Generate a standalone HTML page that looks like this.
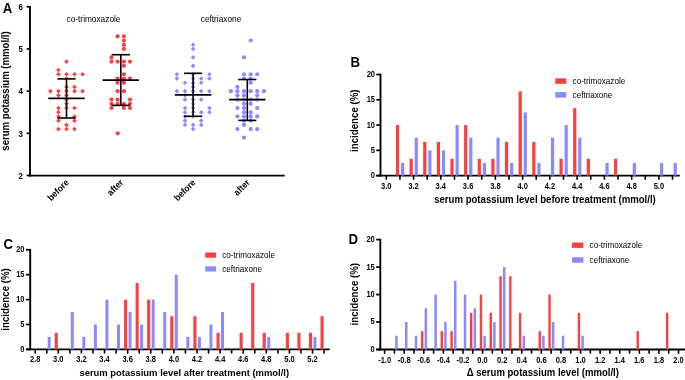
<!DOCTYPE html>
<html><head><meta charset="utf-8"><style>
html,body{margin:0;padding:0;background:#fff;width:685px;height:380px;overflow:hidden}
svg{display:block;font-family:"Liberation Sans", sans-serif;will-change:transform}
text{fill:#000}
</style></head><body>
<svg width="685" height="380" viewBox="0 0 685 380">
<text transform="translate(2.80,12.60) scale(1.0,1.15)" font-size="13.2" font-weight="bold" text-anchor="start">A</text>
<line x1="30.00" y1="5.90" x2="30.00" y2="176.40" stroke="#000" stroke-width="1.9"/>
<line x1="29.10" y1="175.60" x2="284.70" y2="175.60" stroke="#000" stroke-width="1.9"/>
<line x1="26.60" y1="175.50" x2="30.00" y2="175.50" stroke="#000" stroke-width="1.7"/>
<text transform="translate(23.00,178.75) scale(1.0,1.22)" font-size="7.9" font-weight="bold" text-anchor="end">2</text>
<line x1="26.60" y1="133.32" x2="30.00" y2="133.32" stroke="#000" stroke-width="1.7"/>
<text transform="translate(23.00,136.57) scale(1.0,1.22)" font-size="7.9" font-weight="bold" text-anchor="end">3</text>
<line x1="26.60" y1="91.14" x2="30.00" y2="91.14" stroke="#000" stroke-width="1.7"/>
<text transform="translate(23.00,94.39) scale(1.0,1.22)" font-size="7.9" font-weight="bold" text-anchor="end">4</text>
<line x1="26.60" y1="48.96" x2="30.00" y2="48.96" stroke="#000" stroke-width="1.7"/>
<text transform="translate(23.00,52.21) scale(1.0,1.22)" font-size="7.9" font-weight="bold" text-anchor="end">5</text>
<line x1="26.60" y1="6.78" x2="30.00" y2="6.78" stroke="#000" stroke-width="1.7"/>
<text transform="translate(23.00,10.03) scale(1.0,1.22)" font-size="7.9" font-weight="bold" text-anchor="end">6</text>
<text transform="translate(93.50,21.70) scale(1.0,1.08)" font-size="8.3" font-weight="normal" text-anchor="middle">co-trimoxazole</text>
<text transform="translate(221.00,21.60) scale(1.0,1.08)" font-size="8.3" font-weight="normal" text-anchor="middle">ceftriaxone</text>
<text transform="translate(9.00,91.00) rotate(-90) scale(1.0,1.05)" font-size="9.6" font-weight="bold" text-anchor="middle">serum potassium (mmol/l)</text>
<text transform="translate(69.50,183.20) rotate(-45) scale(1.0,1.08)" font-size="8.5" font-weight="bold" text-anchor="end">before</text>
<text transform="translate(123.80,183.20) rotate(-45) scale(1.0,1.08)" font-size="8.5" font-weight="bold" text-anchor="end">after</text>
<text transform="translate(196.10,183.20) rotate(-45) scale(1.0,1.08)" font-size="8.5" font-weight="bold" text-anchor="end">before</text>
<text transform="translate(250.30,183.20) rotate(-45) scale(1.0,1.08)" font-size="8.5" font-weight="bold" text-anchor="end">after</text>
<path d="M66.50 59.31L68.80 61.61L66.50 63.91L64.20 61.61Z" fill="#FA3F3F"/>
<path d="M58.45 67.75L60.75 70.05L58.45 72.35L56.15 70.05Z" fill="#FA3F3F"/>
<path d="M58.45 71.97L60.75 74.27L58.45 76.57L56.15 74.27Z" fill="#FA3F3F"/>
<path d="M66.50 71.97L68.80 74.27L66.50 76.57L64.20 74.27Z" fill="#FA3F3F"/>
<path d="M74.55 71.97L76.85 74.27L74.55 76.57L72.25 74.27Z" fill="#FA3F3F"/>
<path d="M82.60 71.97L84.90 74.27L82.60 76.57L80.30 74.27Z" fill="#FA3F3F"/>
<path d="M66.50 76.19L68.80 78.49L66.50 80.79L64.20 78.49Z" fill="#FA3F3F"/>
<path d="M66.50 84.62L68.80 86.92L66.50 89.22L64.20 86.92Z" fill="#FA3F3F"/>
<path d="M74.55 84.62L76.85 86.92L74.55 89.22L72.25 86.92Z" fill="#FA3F3F"/>
<path d="M50.40 88.84L52.70 91.14L50.40 93.44L48.10 91.14Z" fill="#FA3F3F"/>
<path d="M58.45 88.84L60.75 91.14L58.45 93.44L56.15 91.14Z" fill="#FA3F3F"/>
<path d="M66.50 88.84L68.80 91.14L66.50 93.44L64.20 91.14Z" fill="#FA3F3F"/>
<path d="M74.55 88.84L76.85 91.14L74.55 93.44L72.25 91.14Z" fill="#FA3F3F"/>
<path d="M82.60 88.84L84.90 91.14L82.60 93.44L80.30 91.14Z" fill="#FA3F3F"/>
<path d="M58.45 93.06L60.75 95.36L58.45 97.66L56.15 95.36Z" fill="#FA3F3F"/>
<path d="M66.50 93.06L68.80 95.36L66.50 97.66L64.20 95.36Z" fill="#FA3F3F"/>
<path d="M66.50 97.28L68.80 99.58L66.50 101.88L64.20 99.58Z" fill="#FA3F3F"/>
<path d="M66.50 101.49L68.80 103.79L66.50 106.09L64.20 103.79Z" fill="#FA3F3F"/>
<path d="M58.45 105.71L60.75 108.01L58.45 110.31L56.15 108.01Z" fill="#FA3F3F"/>
<path d="M66.50 105.71L68.80 108.01L66.50 110.31L64.20 108.01Z" fill="#FA3F3F"/>
<path d="M74.55 105.71L76.85 108.01L74.55 110.31L72.25 108.01Z" fill="#FA3F3F"/>
<path d="M58.45 109.93L60.75 112.23L58.45 114.53L56.15 112.23Z" fill="#FA3F3F"/>
<path d="M58.45 114.15L60.75 116.45L58.45 118.75L56.15 116.45Z" fill="#FA3F3F"/>
<path d="M74.55 114.15L76.85 116.45L74.55 118.75L72.25 116.45Z" fill="#FA3F3F"/>
<path d="M58.45 118.37L60.75 120.67L58.45 122.97L56.15 120.67Z" fill="#FA3F3F"/>
<path d="M74.55 118.37L76.85 120.67L74.55 122.97L72.25 120.67Z" fill="#FA3F3F"/>
<path d="M66.50 122.58L68.80 124.88L66.50 127.18L64.20 124.88Z" fill="#FA3F3F"/>
<path d="M58.45 126.80L60.75 129.10L58.45 131.40L56.15 129.10Z" fill="#FA3F3F"/>
<path d="M66.50 126.80L68.80 129.10L66.50 131.40L64.20 129.10Z" fill="#FA3F3F"/>
<path d="M74.55 126.80L76.85 129.10L74.55 131.40L72.25 129.10Z" fill="#FA3F3F"/>
<circle cx="117.60" cy="36.31" r="2.1" fill="#FA3F3F"/>
<circle cx="123.90" cy="36.31" r="2.1" fill="#FA3F3F"/>
<circle cx="123.90" cy="40.52" r="2.1" fill="#FA3F3F"/>
<circle cx="123.90" cy="44.74" r="2.1" fill="#FA3F3F"/>
<circle cx="123.90" cy="48.96" r="2.1" fill="#FA3F3F"/>
<circle cx="111.50" cy="57.40" r="2.1" fill="#FA3F3F"/>
<circle cx="111.50" cy="61.61" r="2.1" fill="#FA3F3F"/>
<circle cx="117.60" cy="61.61" r="2.1" fill="#FA3F3F"/>
<circle cx="123.90" cy="61.61" r="2.1" fill="#FA3F3F"/>
<circle cx="130.00" cy="61.61" r="2.1" fill="#FA3F3F"/>
<circle cx="123.90" cy="65.83" r="2.1" fill="#FA3F3F"/>
<circle cx="123.90" cy="74.27" r="2.1" fill="#FA3F3F"/>
<circle cx="117.60" cy="78.49" r="2.1" fill="#FA3F3F"/>
<circle cx="123.90" cy="78.49" r="2.1" fill="#FA3F3F"/>
<circle cx="130.00" cy="78.49" r="2.1" fill="#FA3F3F"/>
<circle cx="117.60" cy="82.70" r="2.1" fill="#FA3F3F"/>
<circle cx="123.90" cy="82.70" r="2.1" fill="#FA3F3F"/>
<circle cx="117.60" cy="91.14" r="2.1" fill="#FA3F3F"/>
<circle cx="123.90" cy="91.14" r="2.1" fill="#FA3F3F"/>
<circle cx="111.50" cy="99.58" r="2.1" fill="#FA3F3F"/>
<circle cx="117.60" cy="99.58" r="2.1" fill="#FA3F3F"/>
<circle cx="130.00" cy="99.58" r="2.1" fill="#FA3F3F"/>
<circle cx="111.50" cy="103.79" r="2.1" fill="#FA3F3F"/>
<circle cx="117.60" cy="103.79" r="2.1" fill="#FA3F3F"/>
<circle cx="123.90" cy="103.79" r="2.1" fill="#FA3F3F"/>
<circle cx="130.00" cy="103.79" r="2.1" fill="#FA3F3F"/>
<circle cx="111.50" cy="108.01" r="2.1" fill="#FA3F3F"/>
<circle cx="123.90" cy="108.01" r="2.1" fill="#FA3F3F"/>
<circle cx="130.00" cy="108.01" r="2.1" fill="#FA3F3F"/>
<circle cx="117.70" cy="133.32" r="2.1" fill="#FA3F3F"/>
<path d="M193.10 42.44L195.40 44.74L193.10 47.04L190.80 44.74Z" fill="#8A8AFF"/>
<path d="M193.10 46.66L195.40 48.96L193.10 51.26L190.80 48.96Z" fill="#8A8AFF"/>
<path d="M193.10 55.10L195.40 57.40L193.10 59.70L190.80 57.40Z" fill="#8A8AFF"/>
<path d="M193.10 63.53L195.40 65.83L193.10 68.13L190.80 65.83Z" fill="#8A8AFF"/>
<path d="M176.90 71.97L179.20 74.27L176.90 76.57L174.60 74.27Z" fill="#8A8AFF"/>
<path d="M193.10 71.97L195.40 74.27L193.10 76.57L190.80 74.27Z" fill="#8A8AFF"/>
<path d="M209.40 71.97L211.70 74.27L209.40 76.57L207.10 74.27Z" fill="#8A8AFF"/>
<path d="M176.90 76.19L179.20 78.49L176.90 80.79L174.60 78.49Z" fill="#8A8AFF"/>
<path d="M193.10 76.19L195.40 78.49L193.10 80.79L190.80 78.49Z" fill="#8A8AFF"/>
<path d="M201.20 76.19L203.50 78.49L201.20 80.79L198.90 78.49Z" fill="#8A8AFF"/>
<path d="M209.40 76.19L211.70 78.49L209.40 80.79L207.10 78.49Z" fill="#8A8AFF"/>
<path d="M185.00 80.40L187.30 82.70L185.00 85.00L182.70 82.70Z" fill="#8A8AFF"/>
<path d="M193.10 80.40L195.40 82.70L193.10 85.00L190.80 82.70Z" fill="#8A8AFF"/>
<path d="M201.20 80.40L203.50 82.70L201.20 85.00L198.90 82.70Z" fill="#8A8AFF"/>
<path d="M193.10 84.62L195.40 86.92L193.10 89.22L190.80 86.92Z" fill="#8A8AFF"/>
<path d="M176.90 88.84L179.20 91.14L176.90 93.44L174.60 91.14Z" fill="#8A8AFF"/>
<path d="M185.00 88.84L187.30 91.14L185.00 93.44L182.70 91.14Z" fill="#8A8AFF"/>
<path d="M193.10 88.84L195.40 91.14L193.10 93.44L190.80 91.14Z" fill="#8A8AFF"/>
<path d="M201.20 88.84L203.50 91.14L201.20 93.44L198.90 91.14Z" fill="#8A8AFF"/>
<path d="M209.40 88.84L211.70 91.14L209.40 93.44L207.10 91.14Z" fill="#8A8AFF"/>
<path d="M185.00 93.06L187.30 95.36L185.00 97.66L182.70 95.36Z" fill="#8A8AFF"/>
<path d="M185.00 97.28L187.30 99.58L185.00 101.88L182.70 99.58Z" fill="#8A8AFF"/>
<path d="M193.10 97.28L195.40 99.58L193.10 101.88L190.80 99.58Z" fill="#8A8AFF"/>
<path d="M201.20 97.28L203.50 99.58L201.20 101.88L198.90 99.58Z" fill="#8A8AFF"/>
<path d="M193.10 101.49L195.40 103.79L193.10 106.09L190.80 103.79Z" fill="#8A8AFF"/>
<path d="M185.00 105.71L187.30 108.01L185.00 110.31L182.70 108.01Z" fill="#8A8AFF"/>
<path d="M193.10 105.71L195.40 108.01L193.10 110.31L190.80 108.01Z" fill="#8A8AFF"/>
<path d="M209.40 105.71L211.70 108.01L209.40 110.31L207.10 108.01Z" fill="#8A8AFF"/>
<path d="M185.00 109.93L187.30 112.23L185.00 114.53L182.70 112.23Z" fill="#8A8AFF"/>
<path d="M193.10 109.93L195.40 112.23L193.10 114.53L190.80 112.23Z" fill="#8A8AFF"/>
<path d="M201.20 109.93L203.50 112.23L201.20 114.53L198.90 112.23Z" fill="#8A8AFF"/>
<path d="M209.40 109.93L211.70 112.23L209.40 114.53L207.10 112.23Z" fill="#8A8AFF"/>
<path d="M185.00 114.15L187.30 116.45L185.00 118.75L182.70 116.45Z" fill="#8A8AFF"/>
<path d="M193.10 114.15L195.40 116.45L193.10 118.75L190.80 116.45Z" fill="#8A8AFF"/>
<path d="M185.00 118.37L187.30 120.67L185.00 122.97L182.70 120.67Z" fill="#8A8AFF"/>
<path d="M201.20 118.37L203.50 120.67L201.20 122.97L198.90 120.67Z" fill="#8A8AFF"/>
<path d="M185.00 122.58L187.30 124.88L185.00 127.18L182.70 124.88Z" fill="#8A8AFF"/>
<path d="M193.10 122.58L195.40 124.88L193.10 127.18L190.80 124.88Z" fill="#8A8AFF"/>
<path d="M201.20 122.58L203.50 124.88L201.20 127.18L198.90 124.88Z" fill="#8A8AFF"/>
<path d="M193.10 126.80L195.40 129.10L193.10 131.40L190.80 129.10Z" fill="#8A8AFF"/>
<circle cx="250.70" cy="40.52" r="2.1" fill="#8A8AFF"/>
<circle cx="244.00" cy="57.40" r="2.1" fill="#8A8AFF"/>
<circle cx="244.00" cy="74.27" r="2.1" fill="#8A8AFF"/>
<circle cx="250.70" cy="74.27" r="2.1" fill="#8A8AFF"/>
<circle cx="257.20" cy="74.27" r="2.1" fill="#8A8AFF"/>
<circle cx="244.00" cy="78.49" r="2.1" fill="#8A8AFF"/>
<circle cx="250.70" cy="78.49" r="2.1" fill="#8A8AFF"/>
<circle cx="250.70" cy="82.70" r="2.1" fill="#8A8AFF"/>
<circle cx="237.40" cy="86.92" r="2.1" fill="#8A8AFF"/>
<circle cx="230.90" cy="91.14" r="2.1" fill="#8A8AFF"/>
<circle cx="237.40" cy="91.14" r="2.1" fill="#8A8AFF"/>
<circle cx="244.00" cy="91.14" r="2.1" fill="#8A8AFF"/>
<circle cx="250.70" cy="91.14" r="2.1" fill="#8A8AFF"/>
<circle cx="257.20" cy="91.14" r="2.1" fill="#8A8AFF"/>
<circle cx="263.90" cy="91.14" r="2.1" fill="#8A8AFF"/>
<circle cx="237.40" cy="95.36" r="2.1" fill="#8A8AFF"/>
<circle cx="244.00" cy="95.36" r="2.1" fill="#8A8AFF"/>
<circle cx="257.20" cy="95.36" r="2.1" fill="#8A8AFF"/>
<circle cx="237.40" cy="99.58" r="2.1" fill="#8A8AFF"/>
<circle cx="244.00" cy="99.58" r="2.1" fill="#8A8AFF"/>
<circle cx="250.70" cy="99.58" r="2.1" fill="#8A8AFF"/>
<circle cx="257.20" cy="99.58" r="2.1" fill="#8A8AFF"/>
<circle cx="244.00" cy="103.79" r="2.1" fill="#8A8AFF"/>
<circle cx="250.70" cy="103.79" r="2.1" fill="#8A8AFF"/>
<circle cx="237.40" cy="108.01" r="2.1" fill="#8A8AFF"/>
<circle cx="244.00" cy="108.01" r="2.1" fill="#8A8AFF"/>
<circle cx="257.20" cy="108.01" r="2.1" fill="#8A8AFF"/>
<circle cx="244.00" cy="112.23" r="2.1" fill="#8A8AFF"/>
<circle cx="250.70" cy="112.23" r="2.1" fill="#8A8AFF"/>
<circle cx="237.40" cy="116.45" r="2.1" fill="#8A8AFF"/>
<circle cx="244.00" cy="116.45" r="2.1" fill="#8A8AFF"/>
<circle cx="250.70" cy="116.45" r="2.1" fill="#8A8AFF"/>
<circle cx="257.20" cy="116.45" r="2.1" fill="#8A8AFF"/>
<circle cx="244.00" cy="120.67" r="2.1" fill="#8A8AFF"/>
<circle cx="250.70" cy="120.67" r="2.1" fill="#8A8AFF"/>
<circle cx="244.00" cy="124.88" r="2.1" fill="#8A8AFF"/>
<circle cx="237.40" cy="129.10" r="2.1" fill="#8A8AFF"/>
<circle cx="250.70" cy="129.10" r="2.1" fill="#8A8AFF"/>
<circle cx="257.20" cy="129.10" r="2.1" fill="#8A8AFF"/>
<circle cx="244.00" cy="137.54" r="2.1" fill="#8A8AFF"/>
<line x1="66.50" y1="78.90" x2="66.50" y2="118.00" stroke="#000" stroke-width="1.6"/>
<line x1="48.30" y1="98.40" x2="84.70" y2="98.40" stroke="#000" stroke-width="1.7"/>
<line x1="57.40" y1="78.90" x2="75.60" y2="78.90" stroke="#000" stroke-width="1.6"/>
<line x1="57.40" y1="118.00" x2="75.60" y2="118.00" stroke="#000" stroke-width="1.6"/>
<line x1="120.80" y1="54.70" x2="120.80" y2="105.40" stroke="#000" stroke-width="1.6"/>
<line x1="102.60" y1="80.20" x2="139.00" y2="80.20" stroke="#000" stroke-width="1.7"/>
<line x1="111.70" y1="54.70" x2="129.90" y2="54.70" stroke="#000" stroke-width="1.6"/>
<line x1="111.70" y1="105.40" x2="129.90" y2="105.40" stroke="#000" stroke-width="1.6"/>
<line x1="193.10" y1="73.30" x2="193.10" y2="116.30" stroke="#000" stroke-width="1.6"/>
<line x1="174.90" y1="94.90" x2="211.30" y2="94.90" stroke="#000" stroke-width="1.7"/>
<line x1="184.00" y1="73.30" x2="202.20" y2="73.30" stroke="#000" stroke-width="1.6"/>
<line x1="184.00" y1="116.30" x2="202.20" y2="116.30" stroke="#000" stroke-width="1.6"/>
<line x1="247.30" y1="79.50" x2="247.30" y2="120.40" stroke="#000" stroke-width="1.6"/>
<line x1="229.10" y1="99.70" x2="265.50" y2="99.70" stroke="#000" stroke-width="1.7"/>
<line x1="238.20" y1="79.50" x2="256.40" y2="79.50" stroke="#000" stroke-width="1.6"/>
<line x1="238.20" y1="120.40" x2="256.40" y2="120.40" stroke="#000" stroke-width="1.6"/>
<text transform="translate(350.40,66.60) scale(1.0,1.15)" font-size="13.2" font-weight="bold" text-anchor="start">B</text>
<line x1="380.50" y1="73.60" x2="380.50" y2="176.50" stroke="#000" stroke-width="1.9"/>
<line x1="376.30" y1="175.60" x2="679.80" y2="175.60" stroke="#000" stroke-width="1.9"/>
<line x1="376.30" y1="175.60" x2="380.50" y2="175.60" stroke="#000" stroke-width="1.7"/>
<text transform="translate(375.00,178.05) scale(1.0,1.15)" font-size="7.5" font-weight="bold" text-anchor="end">0</text>
<line x1="376.30" y1="150.32" x2="380.50" y2="150.32" stroke="#000" stroke-width="1.7"/>
<text transform="translate(375.00,152.77) scale(1.0,1.15)" font-size="7.5" font-weight="bold" text-anchor="end">5</text>
<line x1="376.30" y1="125.05" x2="380.50" y2="125.05" stroke="#000" stroke-width="1.7"/>
<text transform="translate(375.00,127.50) scale(1.0,1.15)" font-size="7.5" font-weight="bold" text-anchor="end">10</text>
<line x1="376.30" y1="99.78" x2="380.50" y2="99.78" stroke="#000" stroke-width="1.7"/>
<text transform="translate(375.00,102.23) scale(1.0,1.15)" font-size="7.5" font-weight="bold" text-anchor="end">15</text>
<line x1="376.30" y1="74.50" x2="380.50" y2="74.50" stroke="#000" stroke-width="1.7"/>
<text transform="translate(375.00,76.95) scale(1.0,1.15)" font-size="7.5" font-weight="bold" text-anchor="end">20</text>
<line x1="386.30" y1="175.60" x2="386.30" y2="179.80" stroke="#000" stroke-width="1.6"/>
<line x1="399.93" y1="175.60" x2="399.93" y2="179.80" stroke="#000" stroke-width="1.6"/>
<line x1="413.56" y1="175.60" x2="413.56" y2="179.80" stroke="#000" stroke-width="1.6"/>
<line x1="427.19" y1="175.60" x2="427.19" y2="179.80" stroke="#000" stroke-width="1.6"/>
<line x1="440.82" y1="175.60" x2="440.82" y2="179.80" stroke="#000" stroke-width="1.6"/>
<line x1="454.45" y1="175.60" x2="454.45" y2="179.80" stroke="#000" stroke-width="1.6"/>
<line x1="468.08" y1="175.60" x2="468.08" y2="179.80" stroke="#000" stroke-width="1.6"/>
<line x1="481.71" y1="175.60" x2="481.71" y2="179.80" stroke="#000" stroke-width="1.6"/>
<line x1="495.34" y1="175.60" x2="495.34" y2="179.80" stroke="#000" stroke-width="1.6"/>
<line x1="508.97" y1="175.60" x2="508.97" y2="179.80" stroke="#000" stroke-width="1.6"/>
<line x1="522.60" y1="175.60" x2="522.60" y2="179.80" stroke="#000" stroke-width="1.6"/>
<line x1="536.23" y1="175.60" x2="536.23" y2="179.80" stroke="#000" stroke-width="1.6"/>
<line x1="549.86" y1="175.60" x2="549.86" y2="179.80" stroke="#000" stroke-width="1.6"/>
<line x1="563.49" y1="175.60" x2="563.49" y2="179.80" stroke="#000" stroke-width="1.6"/>
<line x1="577.12" y1="175.60" x2="577.12" y2="179.80" stroke="#000" stroke-width="1.6"/>
<line x1="590.75" y1="175.60" x2="590.75" y2="179.80" stroke="#000" stroke-width="1.6"/>
<line x1="604.38" y1="175.60" x2="604.38" y2="179.80" stroke="#000" stroke-width="1.6"/>
<line x1="618.01" y1="175.60" x2="618.01" y2="179.80" stroke="#000" stroke-width="1.6"/>
<line x1="631.64" y1="175.60" x2="631.64" y2="179.80" stroke="#000" stroke-width="1.6"/>
<line x1="645.27" y1="175.60" x2="645.27" y2="179.80" stroke="#000" stroke-width="1.6"/>
<line x1="658.90" y1="175.60" x2="658.90" y2="179.80" stroke="#000" stroke-width="1.6"/>
<line x1="672.53" y1="175.60" x2="672.53" y2="179.80" stroke="#000" stroke-width="1.6"/>
<text transform="translate(386.30,188.60) scale(1.0,1.15)" font-size="7.5" font-weight="bold" text-anchor="middle">3.0</text>
<text transform="translate(413.56,188.60) scale(1.0,1.15)" font-size="7.5" font-weight="bold" text-anchor="middle">3.2</text>
<text transform="translate(440.82,188.60) scale(1.0,1.15)" font-size="7.5" font-weight="bold" text-anchor="middle">3.4</text>
<text transform="translate(468.08,188.60) scale(1.0,1.15)" font-size="7.5" font-weight="bold" text-anchor="middle">3.6</text>
<text transform="translate(495.34,188.60) scale(1.0,1.15)" font-size="7.5" font-weight="bold" text-anchor="middle">3.8</text>
<text transform="translate(522.60,188.60) scale(1.0,1.15)" font-size="7.5" font-weight="bold" text-anchor="middle">4.0</text>
<text transform="translate(549.86,188.60) scale(1.0,1.15)" font-size="7.5" font-weight="bold" text-anchor="middle">4.2</text>
<text transform="translate(577.12,188.60) scale(1.0,1.15)" font-size="7.5" font-weight="bold" text-anchor="middle">4.4</text>
<text transform="translate(604.38,188.60) scale(1.0,1.15)" font-size="7.5" font-weight="bold" text-anchor="middle">4.6</text>
<text transform="translate(631.64,188.60) scale(1.0,1.15)" font-size="7.5" font-weight="bold" text-anchor="middle">4.8</text>
<text transform="translate(658.90,188.60) scale(1.0,1.15)" font-size="7.5" font-weight="bold" text-anchor="middle">5.0</text>
<rect x="395.93" y="125.05" width="3.20" height="50.55" fill="#FA3F3F"/>
<rect x="409.56" y="158.75" width="3.20" height="16.85" fill="#FA3F3F"/>
<rect x="423.19" y="141.90" width="3.20" height="33.70" fill="#FA3F3F"/>
<rect x="436.82" y="141.90" width="3.20" height="33.70" fill="#FA3F3F"/>
<rect x="450.45" y="158.75" width="3.20" height="16.85" fill="#FA3F3F"/>
<rect x="464.08" y="125.05" width="3.20" height="50.55" fill="#FA3F3F"/>
<rect x="477.71" y="158.75" width="3.20" height="16.85" fill="#FA3F3F"/>
<rect x="491.34" y="158.75" width="3.20" height="16.85" fill="#FA3F3F"/>
<rect x="504.97" y="141.90" width="3.20" height="33.70" fill="#FA3F3F"/>
<rect x="518.60" y="91.35" width="3.20" height="84.25" fill="#FA3F3F"/>
<rect x="532.23" y="141.90" width="3.20" height="33.70" fill="#FA3F3F"/>
<rect x="559.49" y="158.75" width="3.20" height="16.85" fill="#FA3F3F"/>
<rect x="573.12" y="108.20" width="3.20" height="67.40" fill="#FA3F3F"/>
<rect x="586.75" y="158.75" width="3.20" height="16.85" fill="#FA3F3F"/>
<rect x="614.01" y="158.75" width="3.20" height="16.85" fill="#FA3F3F"/>
<rect x="401.03" y="162.96" width="3.20" height="12.64" fill="#8A8AFF"/>
<rect x="414.66" y="137.69" width="3.20" height="37.91" fill="#8A8AFF"/>
<rect x="428.29" y="150.32" width="3.20" height="25.27" fill="#8A8AFF"/>
<rect x="441.92" y="150.32" width="3.20" height="25.27" fill="#8A8AFF"/>
<rect x="455.55" y="125.05" width="3.20" height="50.55" fill="#8A8AFF"/>
<rect x="469.18" y="137.69" width="3.20" height="37.91" fill="#8A8AFF"/>
<rect x="482.81" y="162.96" width="3.20" height="12.64" fill="#8A8AFF"/>
<rect x="496.44" y="137.69" width="3.20" height="37.91" fill="#8A8AFF"/>
<rect x="510.07" y="162.96" width="3.20" height="12.64" fill="#8A8AFF"/>
<rect x="523.70" y="112.41" width="3.20" height="63.19" fill="#8A8AFF"/>
<rect x="537.33" y="162.96" width="3.20" height="12.64" fill="#8A8AFF"/>
<rect x="550.96" y="137.69" width="3.20" height="37.91" fill="#8A8AFF"/>
<rect x="564.59" y="125.05" width="3.20" height="50.55" fill="#8A8AFF"/>
<rect x="578.22" y="137.69" width="3.20" height="37.91" fill="#8A8AFF"/>
<rect x="605.48" y="162.96" width="3.20" height="12.64" fill="#8A8AFF"/>
<rect x="632.74" y="162.96" width="3.20" height="12.64" fill="#8A8AFF"/>
<rect x="660.00" y="162.96" width="3.20" height="12.64" fill="#8A8AFF"/>
<rect x="673.63" y="162.96" width="3.20" height="12.64" fill="#8A8AFF"/>
<rect x="555.30" y="78.30" width="11.00" height="5.50" fill="#FA3F3F"/>
<rect x="555.30" y="92.10" width="11.00" height="5.50" fill="#8A8AFF"/>
<text transform="translate(572.60,84.20) scale(1.0,1.08)" font-size="8.1" font-weight="normal" text-anchor="start">co-trimoxazole</text>
<text transform="translate(572.60,97.60) scale(1.0,1.08)" font-size="8.1" font-weight="normal" text-anchor="start">ceftriaxone</text>
<text transform="translate(545.00,202.70) scale(1.0,1.05)" font-size="9.6" font-weight="bold" text-anchor="middle">serum potassium level before treatment (mmol/l)</text>
<text transform="translate(358.20,120.70) rotate(-90) scale(1.0,1.05)" font-size="9.7" font-weight="bold" text-anchor="middle">incidence (%)</text>
<text transform="translate(3.40,248.60) scale(1.0,1.15)" font-size="13.2" font-weight="bold" text-anchor="start">C</text>
<line x1="30.20" y1="248.90" x2="30.20" y2="350.30" stroke="#000" stroke-width="1.9"/>
<line x1="26.00" y1="349.40" x2="329.70" y2="349.40" stroke="#000" stroke-width="1.9"/>
<line x1="26.00" y1="349.40" x2="30.20" y2="349.40" stroke="#000" stroke-width="1.7"/>
<text transform="translate(24.50,351.85) scale(1.0,1.15)" font-size="7.5" font-weight="bold" text-anchor="end">0</text>
<line x1="26.00" y1="324.50" x2="30.20" y2="324.50" stroke="#000" stroke-width="1.7"/>
<text transform="translate(24.50,326.95) scale(1.0,1.15)" font-size="7.5" font-weight="bold" text-anchor="end">5</text>
<line x1="26.00" y1="299.60" x2="30.20" y2="299.60" stroke="#000" stroke-width="1.7"/>
<text transform="translate(24.50,302.05) scale(1.0,1.15)" font-size="7.5" font-weight="bold" text-anchor="end">10</text>
<line x1="26.00" y1="274.70" x2="30.20" y2="274.70" stroke="#000" stroke-width="1.7"/>
<text transform="translate(24.50,277.15) scale(1.0,1.15)" font-size="7.5" font-weight="bold" text-anchor="end">15</text>
<line x1="26.00" y1="249.80" x2="30.20" y2="249.80" stroke="#000" stroke-width="1.7"/>
<text transform="translate(24.50,252.25) scale(1.0,1.15)" font-size="7.5" font-weight="bold" text-anchor="end">20</text>
<line x1="35.20" y1="349.40" x2="35.20" y2="353.60" stroke="#000" stroke-width="1.6"/>
<line x1="46.76" y1="349.40" x2="46.76" y2="353.60" stroke="#000" stroke-width="1.6"/>
<line x1="58.31" y1="349.40" x2="58.31" y2="353.60" stroke="#000" stroke-width="1.6"/>
<line x1="69.87" y1="349.40" x2="69.87" y2="353.60" stroke="#000" stroke-width="1.6"/>
<line x1="81.42" y1="349.40" x2="81.42" y2="353.60" stroke="#000" stroke-width="1.6"/>
<line x1="92.98" y1="349.40" x2="92.98" y2="353.60" stroke="#000" stroke-width="1.6"/>
<line x1="104.54" y1="349.40" x2="104.54" y2="353.60" stroke="#000" stroke-width="1.6"/>
<line x1="116.09" y1="349.40" x2="116.09" y2="353.60" stroke="#000" stroke-width="1.6"/>
<line x1="127.65" y1="349.40" x2="127.65" y2="353.60" stroke="#000" stroke-width="1.6"/>
<line x1="139.20" y1="349.40" x2="139.20" y2="353.60" stroke="#000" stroke-width="1.6"/>
<line x1="150.76" y1="349.40" x2="150.76" y2="353.60" stroke="#000" stroke-width="1.6"/>
<line x1="162.32" y1="349.40" x2="162.32" y2="353.60" stroke="#000" stroke-width="1.6"/>
<line x1="173.87" y1="349.40" x2="173.87" y2="353.60" stroke="#000" stroke-width="1.6"/>
<line x1="185.43" y1="349.40" x2="185.43" y2="353.60" stroke="#000" stroke-width="1.6"/>
<line x1="196.98" y1="349.40" x2="196.98" y2="353.60" stroke="#000" stroke-width="1.6"/>
<line x1="208.54" y1="349.40" x2="208.54" y2="353.60" stroke="#000" stroke-width="1.6"/>
<line x1="220.10" y1="349.40" x2="220.10" y2="353.60" stroke="#000" stroke-width="1.6"/>
<line x1="231.65" y1="349.40" x2="231.65" y2="353.60" stroke="#000" stroke-width="1.6"/>
<line x1="243.21" y1="349.40" x2="243.21" y2="353.60" stroke="#000" stroke-width="1.6"/>
<line x1="254.76" y1="349.40" x2="254.76" y2="353.60" stroke="#000" stroke-width="1.6"/>
<line x1="266.32" y1="349.40" x2="266.32" y2="353.60" stroke="#000" stroke-width="1.6"/>
<line x1="277.88" y1="349.40" x2="277.88" y2="353.60" stroke="#000" stroke-width="1.6"/>
<line x1="289.43" y1="349.40" x2="289.43" y2="353.60" stroke="#000" stroke-width="1.6"/>
<line x1="300.99" y1="349.40" x2="300.99" y2="353.60" stroke="#000" stroke-width="1.6"/>
<line x1="312.54" y1="349.40" x2="312.54" y2="353.60" stroke="#000" stroke-width="1.6"/>
<line x1="324.10" y1="349.40" x2="324.10" y2="353.60" stroke="#000" stroke-width="1.6"/>
<text transform="translate(35.20,362.00) scale(1.0,1.15)" font-size="7.5" font-weight="bold" text-anchor="middle">2.8</text>
<text transform="translate(58.31,362.00) scale(1.0,1.15)" font-size="7.5" font-weight="bold" text-anchor="middle">3.0</text>
<text transform="translate(81.42,362.00) scale(1.0,1.15)" font-size="7.5" font-weight="bold" text-anchor="middle">3.2</text>
<text transform="translate(104.54,362.00) scale(1.0,1.15)" font-size="7.5" font-weight="bold" text-anchor="middle">3.4</text>
<text transform="translate(127.65,362.00) scale(1.0,1.15)" font-size="7.5" font-weight="bold" text-anchor="middle">3.6</text>
<text transform="translate(150.76,362.00) scale(1.0,1.15)" font-size="7.5" font-weight="bold" text-anchor="middle">3.8</text>
<text transform="translate(173.87,362.00) scale(1.0,1.15)" font-size="7.5" font-weight="bold" text-anchor="middle">4.0</text>
<text transform="translate(196.98,362.00) scale(1.0,1.15)" font-size="7.5" font-weight="bold" text-anchor="middle">4.2</text>
<text transform="translate(220.10,362.00) scale(1.0,1.15)" font-size="7.5" font-weight="bold" text-anchor="middle">4.4</text>
<text transform="translate(243.21,362.00) scale(1.0,1.15)" font-size="7.5" font-weight="bold" text-anchor="middle">4.6</text>
<text transform="translate(266.32,362.00) scale(1.0,1.15)" font-size="7.5" font-weight="bold" text-anchor="middle">4.8</text>
<text transform="translate(289.43,362.00) scale(1.0,1.15)" font-size="7.5" font-weight="bold" text-anchor="middle">5.0</text>
<text transform="translate(312.54,362.00) scale(1.0,1.15)" font-size="7.5" font-weight="bold" text-anchor="middle">5.2</text>
<rect x="54.71" y="332.80" width="3.10" height="16.60" fill="#FA3F3F"/>
<rect x="124.05" y="299.60" width="3.10" height="49.80" fill="#FA3F3F"/>
<rect x="135.60" y="283.00" width="3.10" height="66.40" fill="#FA3F3F"/>
<rect x="147.16" y="299.60" width="3.10" height="49.80" fill="#FA3F3F"/>
<rect x="170.27" y="316.20" width="3.10" height="33.20" fill="#FA3F3F"/>
<rect x="193.38" y="316.20" width="3.10" height="33.20" fill="#FA3F3F"/>
<rect x="216.50" y="332.80" width="3.10" height="16.60" fill="#FA3F3F"/>
<rect x="239.61" y="332.80" width="3.10" height="16.60" fill="#FA3F3F"/>
<rect x="251.16" y="283.00" width="3.10" height="66.40" fill="#FA3F3F"/>
<rect x="262.72" y="332.80" width="3.10" height="16.60" fill="#FA3F3F"/>
<rect x="285.83" y="332.80" width="3.10" height="16.60" fill="#FA3F3F"/>
<rect x="297.39" y="332.80" width="3.10" height="16.60" fill="#FA3F3F"/>
<rect x="308.94" y="332.80" width="3.10" height="16.60" fill="#FA3F3F"/>
<rect x="320.50" y="316.20" width="3.10" height="33.20" fill="#FA3F3F"/>
<rect x="47.66" y="336.95" width="3.00" height="12.45" fill="#8A8AFF"/>
<rect x="70.77" y="312.05" width="3.00" height="37.35" fill="#8A8AFF"/>
<rect x="82.32" y="336.95" width="3.00" height="12.45" fill="#8A8AFF"/>
<rect x="93.88" y="324.50" width="3.00" height="24.90" fill="#8A8AFF"/>
<rect x="105.44" y="299.60" width="3.00" height="49.80" fill="#8A8AFF"/>
<rect x="116.99" y="324.50" width="3.00" height="24.90" fill="#8A8AFF"/>
<rect x="128.55" y="312.05" width="3.00" height="37.35" fill="#8A8AFF"/>
<rect x="140.10" y="324.50" width="3.00" height="24.90" fill="#8A8AFF"/>
<rect x="151.66" y="299.60" width="3.00" height="49.80" fill="#8A8AFF"/>
<rect x="163.22" y="312.05" width="3.00" height="37.35" fill="#8A8AFF"/>
<rect x="174.77" y="274.70" width="3.00" height="74.70" fill="#8A8AFF"/>
<rect x="186.33" y="336.95" width="3.00" height="12.45" fill="#8A8AFF"/>
<rect x="197.88" y="336.95" width="3.00" height="12.45" fill="#8A8AFF"/>
<rect x="209.44" y="324.50" width="3.00" height="24.90" fill="#8A8AFF"/>
<rect x="221.00" y="312.05" width="3.00" height="37.35" fill="#8A8AFF"/>
<rect x="267.22" y="336.95" width="3.00" height="12.45" fill="#8A8AFF"/>
<rect x="313.44" y="336.95" width="3.00" height="12.45" fill="#8A8AFF"/>
<rect x="205.20" y="252.50" width="10.80" height="5.20" fill="#FA3F3F"/>
<rect x="205.20" y="266.30" width="10.80" height="5.20" fill="#8A8AFF"/>
<text transform="translate(222.30,257.70) scale(1.0,1.08)" font-size="8.1" font-weight="normal" text-anchor="start">co-trimoxazole</text>
<text transform="translate(222.30,271.50) scale(1.0,1.08)" font-size="8.1" font-weight="normal" text-anchor="start">ceftriaxone</text>
<text transform="translate(184.25,376.00) scale(1.0,1.05)" font-size="9.45" font-weight="bold" text-anchor="middle">serum potassium level after treatment (mmol/l)</text>
<text transform="translate(8.80,299.40) rotate(-90) scale(1.0,1.05)" font-size="9.7" font-weight="bold" text-anchor="middle">incidence (%)</text>
<text transform="translate(348.60,244.00) scale(1.0,1.15)" font-size="13.2" font-weight="bold" text-anchor="start">D</text>
<line x1="380.30" y1="238.70" x2="380.30" y2="350.40" stroke="#000" stroke-width="1.9"/>
<line x1="376.20" y1="349.50" x2="685.00" y2="349.50" stroke="#000" stroke-width="1.9"/>
<line x1="376.10" y1="349.50" x2="380.30" y2="349.50" stroke="#000" stroke-width="1.7"/>
<text transform="translate(374.80,351.95) scale(1.0,1.15)" font-size="7.5" font-weight="bold" text-anchor="end">0</text>
<line x1="376.10" y1="322.02" x2="380.30" y2="322.02" stroke="#000" stroke-width="1.7"/>
<text transform="translate(374.80,324.47) scale(1.0,1.15)" font-size="7.5" font-weight="bold" text-anchor="end">5</text>
<line x1="376.10" y1="294.55" x2="380.30" y2="294.55" stroke="#000" stroke-width="1.7"/>
<text transform="translate(374.80,297.00) scale(1.0,1.15)" font-size="7.5" font-weight="bold" text-anchor="end">10</text>
<line x1="376.10" y1="267.07" x2="380.30" y2="267.07" stroke="#000" stroke-width="1.7"/>
<text transform="translate(374.80,269.52) scale(1.0,1.15)" font-size="7.5" font-weight="bold" text-anchor="end">15</text>
<line x1="376.10" y1="239.60" x2="380.30" y2="239.60" stroke="#000" stroke-width="1.7"/>
<text transform="translate(374.80,242.05) scale(1.0,1.15)" font-size="7.5" font-weight="bold" text-anchor="end">20</text>
<line x1="384.60" y1="349.50" x2="384.60" y2="353.70" stroke="#000" stroke-width="1.6"/>
<line x1="394.40" y1="349.50" x2="394.40" y2="353.70" stroke="#000" stroke-width="1.6"/>
<line x1="404.19" y1="349.50" x2="404.19" y2="353.70" stroke="#000" stroke-width="1.6"/>
<line x1="413.99" y1="349.50" x2="413.99" y2="353.70" stroke="#000" stroke-width="1.6"/>
<line x1="423.79" y1="349.50" x2="423.79" y2="353.70" stroke="#000" stroke-width="1.6"/>
<line x1="433.59" y1="349.50" x2="433.59" y2="353.70" stroke="#000" stroke-width="1.6"/>
<line x1="443.38" y1="349.50" x2="443.38" y2="353.70" stroke="#000" stroke-width="1.6"/>
<line x1="453.18" y1="349.50" x2="453.18" y2="353.70" stroke="#000" stroke-width="1.6"/>
<line x1="462.98" y1="349.50" x2="462.98" y2="353.70" stroke="#000" stroke-width="1.6"/>
<line x1="472.77" y1="349.50" x2="472.77" y2="353.70" stroke="#000" stroke-width="1.6"/>
<line x1="482.57" y1="349.50" x2="482.57" y2="353.70" stroke="#000" stroke-width="1.6"/>
<line x1="492.37" y1="349.50" x2="492.37" y2="353.70" stroke="#000" stroke-width="1.6"/>
<line x1="502.16" y1="349.50" x2="502.16" y2="353.70" stroke="#000" stroke-width="1.6"/>
<line x1="511.96" y1="349.50" x2="511.96" y2="353.70" stroke="#000" stroke-width="1.6"/>
<line x1="521.76" y1="349.50" x2="521.76" y2="353.70" stroke="#000" stroke-width="1.6"/>
<line x1="531.56" y1="349.50" x2="531.56" y2="353.70" stroke="#000" stroke-width="1.6"/>
<line x1="541.35" y1="349.50" x2="541.35" y2="353.70" stroke="#000" stroke-width="1.6"/>
<line x1="551.15" y1="349.50" x2="551.15" y2="353.70" stroke="#000" stroke-width="1.6"/>
<line x1="560.95" y1="349.50" x2="560.95" y2="353.70" stroke="#000" stroke-width="1.6"/>
<line x1="570.74" y1="349.50" x2="570.74" y2="353.70" stroke="#000" stroke-width="1.6"/>
<line x1="580.54" y1="349.50" x2="580.54" y2="353.70" stroke="#000" stroke-width="1.6"/>
<line x1="590.34" y1="349.50" x2="590.34" y2="353.70" stroke="#000" stroke-width="1.6"/>
<line x1="600.13" y1="349.50" x2="600.13" y2="353.70" stroke="#000" stroke-width="1.6"/>
<line x1="609.93" y1="349.50" x2="609.93" y2="353.70" stroke="#000" stroke-width="1.6"/>
<line x1="619.73" y1="349.50" x2="619.73" y2="353.70" stroke="#000" stroke-width="1.6"/>
<line x1="629.53" y1="349.50" x2="629.53" y2="353.70" stroke="#000" stroke-width="1.6"/>
<line x1="639.32" y1="349.50" x2="639.32" y2="353.70" stroke="#000" stroke-width="1.6"/>
<line x1="649.12" y1="349.50" x2="649.12" y2="353.70" stroke="#000" stroke-width="1.6"/>
<line x1="658.92" y1="349.50" x2="658.92" y2="353.70" stroke="#000" stroke-width="1.6"/>
<line x1="668.71" y1="349.50" x2="668.71" y2="353.70" stroke="#000" stroke-width="1.6"/>
<line x1="678.51" y1="349.50" x2="678.51" y2="353.70" stroke="#000" stroke-width="1.6"/>
<text transform="translate(384.60,362.70) scale(1.0,1.15)" font-size="7.5" font-weight="bold" text-anchor="middle">-1.0</text>
<text transform="translate(404.19,362.70) scale(1.0,1.15)" font-size="7.5" font-weight="bold" text-anchor="middle">-0.8</text>
<text transform="translate(423.79,362.70) scale(1.0,1.15)" font-size="7.5" font-weight="bold" text-anchor="middle">-0.6</text>
<text transform="translate(443.38,362.70) scale(1.0,1.15)" font-size="7.5" font-weight="bold" text-anchor="middle">-0.4</text>
<text transform="translate(462.98,362.70) scale(1.0,1.15)" font-size="7.5" font-weight="bold" text-anchor="middle">-0.2</text>
<text transform="translate(482.57,362.70) scale(1.0,1.15)" font-size="7.5" font-weight="bold" text-anchor="middle">0.0</text>
<text transform="translate(502.16,362.70) scale(1.0,1.15)" font-size="7.5" font-weight="bold" text-anchor="middle">0.2</text>
<text transform="translate(521.76,362.70) scale(1.0,1.15)" font-size="7.5" font-weight="bold" text-anchor="middle">0.4</text>
<text transform="translate(541.35,362.70) scale(1.0,1.15)" font-size="7.5" font-weight="bold" text-anchor="middle">0.6</text>
<text transform="translate(560.95,362.70) scale(1.0,1.15)" font-size="7.5" font-weight="bold" text-anchor="middle">0.8</text>
<text transform="translate(580.54,362.70) scale(1.0,1.15)" font-size="7.5" font-weight="bold" text-anchor="middle">1.0</text>
<text transform="translate(600.13,362.70) scale(1.0,1.15)" font-size="7.5" font-weight="bold" text-anchor="middle">1.2</text>
<text transform="translate(619.73,362.70) scale(1.0,1.15)" font-size="7.5" font-weight="bold" text-anchor="middle">1.4</text>
<text transform="translate(639.32,362.70) scale(1.0,1.15)" font-size="7.5" font-weight="bold" text-anchor="middle">1.6</text>
<text transform="translate(658.92,362.70) scale(1.0,1.15)" font-size="7.5" font-weight="bold" text-anchor="middle">1.8</text>
<text transform="translate(678.51,362.70) scale(1.0,1.15)" font-size="7.5" font-weight="bold" text-anchor="middle">2.0</text>
<rect x="420.99" y="331.18" width="2.40" height="18.32" fill="#FA3F3F"/>
<rect x="440.58" y="331.18" width="2.40" height="18.32" fill="#FA3F3F"/>
<rect x="450.38" y="331.18" width="2.40" height="18.32" fill="#FA3F3F"/>
<rect x="469.97" y="312.87" width="2.40" height="36.63" fill="#FA3F3F"/>
<rect x="479.77" y="294.55" width="2.40" height="54.95" fill="#FA3F3F"/>
<rect x="489.57" y="312.87" width="2.40" height="36.63" fill="#FA3F3F"/>
<rect x="499.36" y="276.23" width="2.40" height="73.27" fill="#FA3F3F"/>
<rect x="509.16" y="276.23" width="2.40" height="73.27" fill="#FA3F3F"/>
<rect x="518.96" y="312.87" width="2.40" height="36.63" fill="#FA3F3F"/>
<rect x="538.55" y="331.18" width="2.40" height="18.32" fill="#FA3F3F"/>
<rect x="548.35" y="294.55" width="2.40" height="54.95" fill="#FA3F3F"/>
<rect x="577.74" y="312.87" width="2.40" height="36.63" fill="#FA3F3F"/>
<rect x="636.52" y="331.18" width="2.40" height="18.32" fill="#FA3F3F"/>
<rect x="665.91" y="312.87" width="2.40" height="36.63" fill="#FA3F3F"/>
<rect x="395.20" y="335.76" width="2.50" height="13.74" fill="#8A8AFF"/>
<rect x="404.99" y="322.02" width="2.50" height="27.48" fill="#8A8AFF"/>
<rect x="414.79" y="335.76" width="2.50" height="13.74" fill="#8A8AFF"/>
<rect x="424.59" y="308.29" width="2.50" height="41.21" fill="#8A8AFF"/>
<rect x="434.39" y="294.55" width="2.50" height="54.95" fill="#8A8AFF"/>
<rect x="444.18" y="322.02" width="2.50" height="27.48" fill="#8A8AFF"/>
<rect x="453.98" y="280.81" width="2.50" height="68.69" fill="#8A8AFF"/>
<rect x="463.78" y="294.55" width="2.50" height="54.95" fill="#8A8AFF"/>
<rect x="473.57" y="308.29" width="2.50" height="41.21" fill="#8A8AFF"/>
<rect x="483.37" y="335.76" width="2.50" height="13.74" fill="#8A8AFF"/>
<rect x="493.17" y="322.02" width="2.50" height="27.48" fill="#8A8AFF"/>
<rect x="502.96" y="267.07" width="2.50" height="82.42" fill="#8A8AFF"/>
<rect x="522.56" y="335.76" width="2.50" height="13.74" fill="#8A8AFF"/>
<rect x="542.15" y="335.76" width="2.50" height="13.74" fill="#8A8AFF"/>
<rect x="551.95" y="322.02" width="2.50" height="27.48" fill="#8A8AFF"/>
<rect x="561.75" y="335.76" width="2.50" height="13.74" fill="#8A8AFF"/>
<rect x="581.34" y="335.76" width="2.50" height="13.74" fill="#8A8AFF"/>
<rect x="572.10" y="242.50" width="11.30" height="5.40" fill="#FA3F3F"/>
<rect x="572.10" y="257.30" width="11.30" height="5.40" fill="#8A8AFF"/>
<text transform="translate(589.60,247.90) scale(1.0,1.08)" font-size="8.1" font-weight="normal" text-anchor="start">co-trimoxazole</text>
<text transform="translate(589.60,262.60) scale(1.0,1.08)" font-size="8.1" font-weight="normal" text-anchor="start">ceftriaxone</text>
<text transform="translate(542.80,375.60) scale(1.0,1.05)" font-size="9.55" font-weight="bold" text-anchor="middle">Δ serum potassium level (mmol/l)</text>
<text transform="translate(357.80,294.20) rotate(-90) scale(1.0,1.05)" font-size="9.7" font-weight="bold" text-anchor="middle">incidence (%)</text>
</svg>
</body></html>
